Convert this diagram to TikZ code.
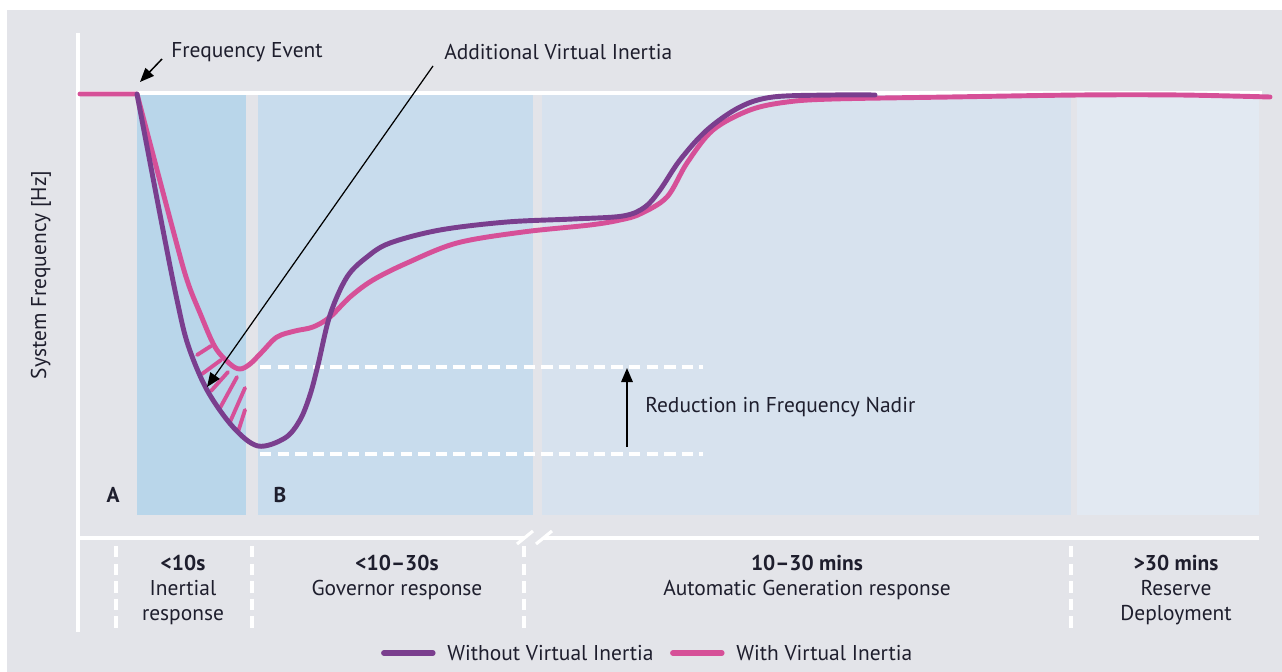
\documentclass[tikz,border=0pt]{standalone}
\usepackage{fontspec}
\setmainfont{PT Sans}
\usepackage{xcolor}
\usepackage{tikz}
\usetikzlibrary{arrows.meta,positioning}
\definecolor{bggrey}{RGB}{227,228,233}
\definecolor{inertblue}{RGB}{185,214,234}
\definecolor{govblue}{RGB}{200,220,237}
\definecolor{agcblue}{RGB}{215,226,238}
\definecolor{resblue}{RGB}{226,233,242}
\definecolor{viopurple}{RGB}{122,62,142}
\definecolor{vipink}{RGB}{214,80,152}
\definecolor{inktext}{RGB}{30,30,45}

\begin{document}
\begin{tikzpicture}[x=0.02cm,y=-0.02cm,font=\fontsize{12.2}{14.2}\selectfont,
  axisline/.style={white,line width=1.8pt},
  gridline/.style={white,line width=1.8pt,dash pattern=on 6.5pt off 3.5pt},
  noVI/.style={viopurple,line width=2.8pt,line cap=round,line join=round},
  withVI/.style={vipink,line width=2.8pt,line cap=round,line join=round},
  hatch/.style={vipink,line width=2.2pt,line cap=round},
  pointer/.style={-{Triangle[length=8pt,width=6.5pt]},black},
  lbl/.style={text=inktext,inner sep=0pt},
  band/.style={lbl,align=center,anchor=north}]
\useasboundingbox (0,0) rectangle (1282,672);
\fill[white] (0,0) rectangle (1282,672);
\fill[bggrey] (7,10) rectangle (1282,672);
% response bands
\fill[inertblue] (137,95) rectangle (246,515);
\fill[govblue] (258,95) rectangle (533,515);
\fill[agcblue] (542,95) rectangle (1071,515);
\fill[resblue] (1077,95) rectangle (1259,515);
% axes
\draw[axisline] (78,33) -- (78,632);
\draw[axisline] (78,93) -- (1262,93);
\draw[axisline] (78,538) -- (525,538);
\draw[axisline] (543,538) -- (1259,538);
\draw[axisline] (517,544) -- (533,531);
\draw[axisline] (536,544) -- (552,531);
\foreach \x in {116,252,524,1071}
  \draw[gridline] (\x,546) -- (\x,632);
% nadir levels
\draw[gridline] (260,367) -- (703,367);
\draw[gridline] (260,454) -- (703,454);
% with virtual inertia
\draw[withVI] (80,94) -- plot[smooth,tension=0.55] coordinates {(137,94) (173,230)
  (187,280) (200,313) (215,347) (230,364) (240,369) (250,364) (262,352) (277,337)
  (295,331) (313,327) (330,317) (350,297) (373,280) (407,263) (457,243) (523,232)
  (590,225) (620,220) (640,214) (667,197) (687,163) (713,130) (750,110) (787,102)
  (833,99) (950,97) (1080,95) (1180,95) (1270,97)};
\foreach \xa/\ya/\xb/\yb in {197/355/211/346, 202/374/221/360, 211/391/228/372,
  220/408/237/377, 230/422/245/388, 238/432/245/410}
  \draw[hatch] (\xa,\ya) -- (\xb,\yb);
% without virtual inertia
\draw[noVI] plot[smooth,tension=0.55] coordinates {(137,94) (163,230) (177,300)
  (188,345) (207,390) (233,427) (258,446) (285,438) (300,420) (310,395) (318,365)
  (330,315) (347,277) (367,257) (390,243) (440,230) (507,222) (573,219) (623,216)
  (645,207) (660,190) (680,160) (707,130) (740,107) (773,97) (833,95) (875,95)};
% annotations
\node[lbl,anchor=west] (event) at (171,52) {Frequency Event};
\coordinate (eventtail) at (162,59);
\coordinate (eventtip) at (140,82);
\draw[pointer,line width=0.85pt] (eventtail) -- (eventtip);
\node[lbl,anchor=west] (avi) at (444,52) {Additional Virtual Inertia};
\coordinate (avitail) at (433,66);
\coordinate (avitip) at (207,387);
\draw[pointer,line width=0.7pt] (avitail) -- (avitip);
\coordinate (nadirlow) at (627,447);
\coordinate (nadirhigh) at (627,368);
\draw[pointer,line width=1.1pt] (nadirlow) -- (nadirhigh);
\node[lbl,anchor=west] (nadir) at (645,407) {Reduction in Frequency Nadir};
\node[lbl,font=\fontsize{12.2}{14.2}\selectfont\bfseries] (ptA) at (113,495) {A};
\node[lbl,font=\fontsize{12.2}{14.2}\selectfont\bfseries] (ptB) at (280,495) {B};
\node[lbl,rotate=90] (ylab) at (41,275) {System Frequency [Hz]};
% time bands
\node[band] (inert) at (183,555) {\textbf{<10s}\\Inertial\\response};
\node[band] (gov) at (397,555) {\textbf{<10--30s}\\Governor response};
\node[band] (agc) at (807,555) {\textbf{10--30 mins}\\Automatic Generation response};
\node[band] (res) at (1176,555) {\textbf{>30 mins}\\Reserve\\Deployment};
% legend
\node[lbl,anchor=west] (legno) at (447,653) {Without Virtual Inertia};
\node[lbl,anchor=west] (legwith) at (736,653) {With Virtual Inertia};
\draw[noVI,line width=3pt] ([xshift=-36pt]legno.west) -- ([xshift=-8pt]legno.west);
\draw[withVI,line width=3pt] ([xshift=-36pt]legwith.west) -- ([xshift=-8pt]legwith.west);
\end{tikzpicture}
\end{document}
